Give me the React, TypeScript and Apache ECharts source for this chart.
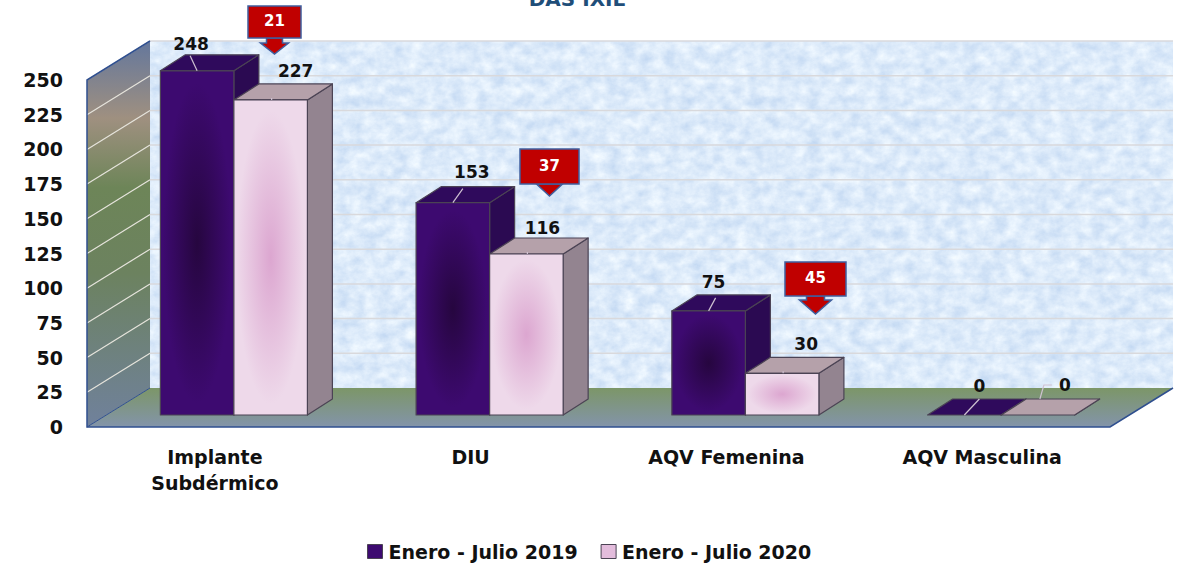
import React, { useEffect, useRef } from "react";
import * as echarts from "echarts";

const titleText = "DAS IXIL";
const categories = ["Implante\nSubdérmico", "DIU", "AQV Femenina", "AQV Masculina"];
const seriesNames = ["Enero - Julio 2019", "Enero - Julio 2020"];
const values2019 = [248, 153, 75, 0];
const values2020 = [227, 116, 30, 0];
const axisTicks = [0, 25, 50, 75, 100, 125, 150, 175, 200, 225, 250];
const differences = [21, 37, 45];

// Placement only (no data): label nudges relative to the bar's top-centre, and callout boxes
const labelNudge2019 = [[-6, -27], [19, -31], [5, -29], [15, -29]];
const labelNudge2020 = [[25, -29], [16, -26], [24, -29], [27, -30]];
const leader2019 = [[[-7, -15], [0, 0]], [[10, -14], [0, 0]], [[7, -13], [0, 0]], [[15, -16], [0, 0]]];
const leader2020 = [[[1, -2], [1, 0]], [[1, -2], [1, 0]], [[1, -2], [1, 0]], [[14, -30], [6, -30], [2, -16]]];
const calloutBoxes = [
  { x: 248, y: 6, w: 53, h: 32, head: 43, wing: 14, shaft: 8, tip: 54 },
  { x: 520, y: 149, w: 59, h: 35, head: 184, wing: 13, shaft: 13, tip: 196 },
  { x: 785, y: 262, w: 61, h: 34, head: 300, wing: 16, shaft: 9, tip: 314 },
];

const FONT = '"DejaVu Sans"';
const L = 87, R = 1110, T = 80, B = 427; // front plane of the chart
const WX = 63, WY = -39; // depth of the walls
const BX = 25, BY = -16; // depth of the bars
const BAR_SHIFT_X = 19, BAR_SHIFT_Y = -12;
const EDGE = "#4b4354";

const palette = [
  { centre: "#26063f", edge: "#3d0a70", top: "#2f0a5c", side: "#2b0a52" },
  { centre: "#dca6d0", edge: "#eed9ea", top: "#b5a1aa", side: "#938490" },
];

const noise = "data:image/svg+xml," + encodeURIComponent(
  `<svg xmlns='http://www.w3.org/2000/svg' width='1023' height='348'><filter id='n' x='0' y='0' width='100%' height='100%' color-interpolation-filters='sRGB'><feTurbulence type='fractalNoise' baseFrequency='0.07 0.09' numOctaves='5' seed='4'/><feColorMatrix values='0.24 0 0 0 0.745  0.17 0 0 0 0.835  0.07 0 0 0 0.945  0 0 0 0 1'/></filter><rect width='1023' height='348' filter='url(#n)'/></svg>`
);

function barRenderer(seriesIndex: number, nudges: number[][], leaders: number[][][]) {
  return (params: any, api: any) => {
    const cat = api.value(0);
    const v = api.value(1);
    const [cx, yTop0] = api.coord([cat, v]);
    const [, y0] = api.coord([cat, 0]);
    const w = api.size([1, 0])[0] * 0.2875;
    const x0 = cx + BAR_SHIFT_X + (seriesIndex === 0 ? -w : 0);
    const x1 = x0 + w;
    const top = yTop0 + BAR_SHIFT_Y;
    const base = y0 + BAR_SHIFT_Y;
    const c = palette[seriesIndex];
    const border = { stroke: EDGE, lineWidth: 1.2, lineJoin: "round" };
    const mid = (x0 + x1) / 2;
    const [nx, ny] = nudges[params.dataIndex];
    const lead = leaders[params.dataIndex];
    const children: any[] = [
      {
        type: "polygon",
        shape: { points: [[x1, top], [x1 + BX, top + BY], [x1 + BX, base + BY], [x1, base]] },
        style: { fill: c.side, ...border },
      },
      {
        type: "polygon",
        shape: { points: [[x0, top], [x0 + BX, top + BY], [x1 + BX, top + BY], [x1, top]] },
        style: { fill: c.top, ...border },
      },
    ];
    if (base - top > 0.5) {
      children.push({
        type: "rect",
        shape: { x: x0, y: top, width: w, height: base - top },
        style: {
          fill: {
            type: "radial", x: 0.5, y: 0.5, r: 0.62,
            colorStops: [
              { offset: 0, color: c.centre },
              { offset: 0.75, color: c.edge },
              { offset: 1, color: c.edge },
            ],
          },
          ...border,
        },
      });
    }
    children.push({
      type: "polyline",
      shape: { points: lead.map(([a, b]) => [mid + a, top + b]) },
      style: { fill: "none", stroke: "#cfc2d2", lineWidth: 1.2 },
    });
    children.push({
      type: "text",
      style: {
        text: String(v), x: mid + nx, y: top + ny,
        fill: "#111", fontFamily: FONT, fontWeight: "bold", fontSize: 17,
        align: "center", verticalAlign: "middle",
      },
    });
    return { type: "group", children };
  };
}

function wallLineRenderer(params: any, api: any) {
  const v = api.value(1);
  if (v === 0) return { type: "group", children: [] };
  const y = api.coord([0, v])[1];
  const left = params.coordSys.x;
  const right = left + params.coordSys.width;
  return {
    type: "group",
    children: [
      { type: "line", shape: { x1: left, y1: y, x2: left + WX, y2: y + WY }, style: { stroke: "#e6e4dc", lineWidth: 1.2 } },
      { type: "line", shape: { x1: left + WX, y1: y + WY, x2: right + WX, y2: y + WY }, style: { stroke: "#d9d9dc", lineWidth: 1.5 } },
    ],
  };
}

export default function App() {
  const ref = useRef<HTMLDivElement>(null);
  useEffect(() => {
    const chart = echarts.init(ref.current!, undefined, { renderer: "svg" });
    const callouts = calloutBoxes.flatMap((b, i) => {
      const cx = b.x + b.w / 2;
      return [
        {
          type: "polygon", z: 20,
          shape: { points: [[cx - b.shaft, b.y + b.h], [cx + b.shaft, b.y + b.h], [cx + b.shaft, b.head], [cx + b.wing, b.head], [cx, b.tip], [cx - b.wing, b.head], [cx - b.shaft, b.head]] },
          style: { fill: "#c00000", stroke: "#3f5f9e", lineWidth: 1.5 },
        },
        {
          type: "rect", z: 21,
          shape: { x: b.x, y: b.y, width: b.w, height: b.h },
          style: { fill: "#c00000", stroke: "#3f5f9e", lineWidth: 1.5 },
        },
        {
          type: "text", z: 22,
          style: {
            text: String(differences[i]), x: cx, y: b.y + b.h / 2 - 1,
            fill: "#fff", fontFamily: FONT, fontWeight: "bold", fontSize: 15,
            align: "center", verticalAlign: "middle",
          },
        },
      ];
    });
    chart.setOption({
      animation: false,
      backgroundColor: "#fff",
      grid: { left: L, right: 1188 - R, top: T, bottom: 565 - B, containLabel: false },
      xAxis: {
        type: "category",
        data: categories,
        axisLine: { show: false },
        axisTick: { show: false },
        axisLabel: {
          color: "#111", fontFamily: FONT, fontWeight: "bold", fontSize: 19,
          margin: 17, lineHeight: 26, interval: 0,
        },
      },
      yAxis: {
        type: "value",
        min: 0, max: 250, interval: 25,
        axisLine: { show: false },
        axisTick: { show: false },
        splitLine: { show: false },
        axisLabel: { color: "#111", fontFamily: FONT, fontWeight: "bold", fontSize: 19, margin: 24 },
      },
      legend: {
        data: seriesNames.map((name, i) => ({
          name,
          itemStyle: { color: i === 0 ? "#3d0a70" : "#e3bcdc", borderColor: EDGE, borderWidth: 1 },
        })),
        left: 362, top: 537,
        itemWidth: 15, itemHeight: 14, itemGap: 23,
        icon: "rect",
        selectedMode: false,
        textStyle: { color: "#111", fontFamily: FONT, fontWeight: "bold", fontSize: 19, padding: [0, 0, 0, 1] },
      },
      graphic: [
        {
          type: "text", z: 1,
          style: {
            text: titleText, x: 577, y: -1, fill: "#1f4e79",
            fontFamily: FONT, fontWeight: "bold", fontSize: 20,
            align: "center", verticalAlign: "middle",
          },
        },
        { type: "rect", z: 0, shape: { x: L + WX, y: T + WY, width: R - L, height: B - T }, style: { fill: "#dcebf8" } },
        { type: "image", z: 0, style: { image: noise, x: L + WX, y: T + WY, width: R - L, height: B - T } },
        {
          type: "polygon", z: 1,
          shape: { points: [[L, T], [L + WX, T + WY], [L + WX, B + WY], [L, B]] },
          style: {
            fill: {
              type: "linear", x: 0, y: 0, x2: 0, y2: 1,
              colorStops: [
                { offset: 0, color: "#64779c" },
                { offset: 0.2, color: "#9f9080" },
                { offset: 0.38, color: "#6d8558" },
                { offset: 0.6, color: "#6c825f" },
                { offset: 1, color: "#70819c" },
              ],
            },
          },
        },
        {
          type: "polygon", z: 1,
          shape: { points: [[L, B], [L + WX, B + WY], [R + WX, B + WY], [R, B]] },
          style: {
            fill: {
              type: "linear", x: 0, y: 0, x2: 0, y2: 1,
              colorStops: [
                { offset: 0, color: "#7c9668" },
                { offset: 1, color: "#8394aa" },
              ],
            },
          },
        },
        {
          type: "polyline", z: 2,
          shape: { points: [[L + WX, T + WY], [L, T], [L, B], [R, B], [R + WX, B + WY]] },
          style: { fill: "none", stroke: "#2f4f8f", lineWidth: 1.5 },
        },
        { type: "line", z: 2, shape: { x1: L, y1: B, x2: L + WX, y2: B + WY }, style: { stroke: "#2f4f8f", lineWidth: 1 } },
        ...callouts,
      ],
      series: [
        {
          type: "custom", name: "wall", silent: true, z: 1,
          data: axisTicks.map((t) => [0, t]),
          encode: { x: 0, y: 1 },
          renderItem: wallLineRenderer,
        },
        {
          type: "custom", name: seriesNames[0], z: 3,
          itemStyle: { color: "#3d0a70" },
          data: values2019.map((v, i) => [i, v]),
          encode: { x: 0, y: 1 },
          renderItem: barRenderer(0, labelNudge2019, leader2019),
        },
        {
          type: "custom", name: seriesNames[1], z: 4,
          itemStyle: { color: "#e8c8e0" },
          data: values2020.map((v, i) => [i, v]),
          encode: { x: 0, y: 1 },
          renderItem: barRenderer(1, labelNudge2020, leader2020),
        },
      ],
    });
    return () => chart.dispose();
  }, []);
  return <div ref={ref} style={{ position: "absolute", left: 0, top: 0, width: 1188, height: 565 }} />;
}
